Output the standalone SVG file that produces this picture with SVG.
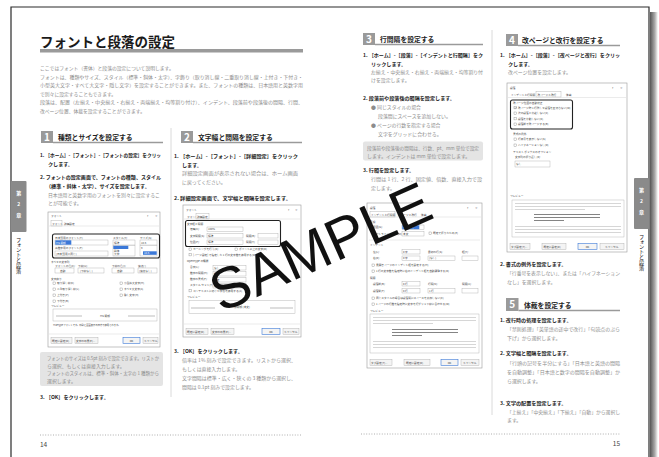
<svg xmlns="http://www.w3.org/2000/svg" width="659" height="457" viewBox="0 0 659 457">
<style>
text{font-family:"Noto Sans CJK JP","Noto Sans",sans-serif}
.ttl{font-size:13.5px;font-weight:bold;fill:#1a1a1a}
.in{font-size:4.8px;fill:#8a8a8a}
.s{font-size:5.1px;font-weight:bold;fill:#222}
.g{font-size:4.9px;fill:#8c8c8c}
.h{font-size:6.8px;font-weight:bold;fill:#222}
.num{font-size:10px;font-weight:bold;fill:#fff}
.nb{fill:#9a9a9a}
.ul{stroke:#9a9a9a;stroke-width:1.3}
.note{fill:#e4e4e4}
.sep{stroke:#d0d0d0;stroke-width:.8}
.dot{stroke:#9a9a9a;stroke-width:.8;stroke-dasharray:1 1.6}
.pn{font-size:6.5px;fill:#444}
.tab{fill:#8a8a8a}
.tabt{font-size:5px;fill:#fff;font-weight:bold}
.vt{font-size:5.2px;fill:#222;writing-mode:vertical-rl}
.dlg{fill:#fff;stroke:#9a9a9a;stroke-width:.6}
.dt{font-size:2.7px;fill:#444}
.dw{font-size:2.7px;fill:#fff}
.db{fill:#fff;stroke:#a8a8a8;stroke-width:.4}
.cb{fill:#fff;stroke:#777;stroke-width:.35}
.hl{fill:none;stroke:#222;stroke-width:1.1}
.bl{fill:#3b78d8}
.btn{fill:#f4f4f4;stroke:#a8a8a8;stroke-width:.4}
.ok{fill:#f4f4f4;stroke:#3b78d8;stroke-width:.6}
.ln{stroke:#ccc;stroke-width:.4}
.pl{fill:#d6d6d6}
.pd{fill:#777}
.wm{font-family:"Liberation Sans",Arial,sans-serif;font-size:58px;fill:#111}
</style>
<defs>
<linearGradient id="shadow" x1="0" y1="0" x2="1" y2="0">
<stop offset="0" stop-color="#555"/>
<stop offset="0.6" stop-color="#aaa"/>
<stop offset="1" stop-color="#fff"/>
</linearGradient>
</defs>

<rect width="659" height="457" fill="#fff"/>

<g id="frame">
<rect x="650" y="12" width="8" height="445" fill="url(#shadow)"/>
<path d="M11 457 V7 H649 V457" fill="#fff" stroke="#2a2a2a" stroke-width="1.2"/>
</g>

<g id="left-page">
<g id="title">
<text class="ttl" x="40" y="46.5">フォントと段落の設定</text>
<rect x="40" y="49" width="263" height="3.5" fill="#9a9a9a"/>
</g>
<g id="intro">
<text class="in" x="40" y="70">ここではフォント（書体）と段落の設定について説明します。</text>
<text class="in" x="40" y="78.5" textLength="263" lengthAdjust="spacingAndGlyphs">フォントは、種類やサイズ、スタイル（標準・斜体・太字）、字飾り（取り消し線・二重取り消し線・上付き・下付き・</text>
<text class="in" x="40" y="87" textLength="263" lengthAdjust="spacingAndGlyphs">小型英大文字・すべて大文字・隠し文字）を設定することができます。また、フォントの種類は、日本語用と英数字用</text>
<text class="in" x="40" y="95.5">で別々に設定することもできます。</text>
<text class="in" x="40" y="104" textLength="263" lengthAdjust="spacingAndGlyphs">段落は、配置（左揃え・中央揃え・右揃え・両端揃え・均等割り付け）、インデント、段落前や段落後の間隔、行間、</text>
<text class="in" x="40" y="112.5">改ページ位置、体裁を設定することができます。</text>
</g>

<line class="sep" x1="171" y1="128" x2="171" y2="397"/>

<g id="section-1">
<rect class="nb" x="41" y="131" width="12" height="12"/>
<text class="num" x="47" y="140.8" text-anchor="middle">1</text>
<text class="h" x="58" y="140">種類とサイズを設定する</text>
<line class="ul" x1="53" y1="142.5" x2="163" y2="142.5"/>
<text class="s" x="40" y="157" textLength="121" lengthAdjust="spacingAndGlyphs">1. ［ホーム］-［フォント］-［フォントの設定］をクリッ</text>
<text class="s" x="48" y="165.5">クします。</text>
<text class="s" x="40" y="179" textLength="121" lengthAdjust="spacingAndGlyphs">2. フォントの設定画面で、フォントの種類、スタイル</text>
<text class="s" x="46" y="188">（標準・斜体・太字）、サイズを設定します。</text>
<text class="g" x="48" y="196.5" textLength="112" lengthAdjust="spacingAndGlyphs">日本語用と英数字用のフォントを別々に設定するこ</text>
<text class="g" x="48" y="205">とが可能です。</text>
</g>

<g id="dialog-font">
<rect class="dlg" x="48" y="212" width="112" height="135"/>
<text class="dt" x="51" y="217">フォント</text>
<text class="dt" x="147" y="217">?</text><text class="dt" x="155" y="217">×</text>
<rect class="db" x="51" y="220.5" width="11" height="5.5"/>
<text class="dt" x="52" y="224.5">フォント</text>
<text class="dt" x="64" y="224.5">詳細設定</text>
<line class="ln" x1="49" y1="226" x2="159" y2="226"/>
<text class="dt" x="55" y="238.5">日本語用のフォント(T):</text>
<text class="dt" x="113" y="238.5">スタイル(Y):</text>
<text class="dt" x="140" y="238.5">サイズ(S):</text>
<rect class="db" x="55" y="240" width="53" height="5"/>
<rect class="bl" x="55.3" y="240.3" width="16" height="4.4"/>
<text class="dw" x="56" y="243.6">MS 明朝</text>
<rect class="db" x="113" y="240" width="22" height="5"/>
<text class="dt" x="114" y="243.6">標準</text>
<rect class="db" x="140" y="240" width="17" height="5"/>
<text class="dt" x="141" y="243.6">10.5</text>
<text class="dt" x="55" y="249">英数字用のフォント(F):</text>
<rect class="db" x="55" y="251" width="53" height="5"/>
<text class="dt" x="56" y="254.6">(日本語用と同じ)</text>
<rect class="db" x="113" y="245.5" width="22" height="10.5"/>
<rect class="bl" x="113.3" y="245.8" width="15" height="3.2"/>
<text class="dt" x="114" y="252">斜体</text>
<text class="dt" x="114" y="255.3">太字</text>
<rect class="db" x="140" y="245.5" width="17" height="10.5"/>
<text class="dt" x="141" y="248.6">9</text>
<rect class="bl" x="143" y="251.3" width="13.7" height="3.5"/>
<text class="dw" x="144" y="254.3">10.5</text>
<rect class="hl" x="52.5" y="234" width="107" height="24" rx="2"/>
<text class="dt" x="51" y="262.5">すべての文字列</text>
<text class="dt" x="55" y="266.5">フォントの色(C):</text>
<text class="dt" x="78" y="266.5">下線(U):</text>
<text class="dt" x="112" y="266.5">下線の色(I):</text>
<text class="dt" x="138" y="266.5">傍点(:)</text>
<rect class="db" x="55" y="268" width="19" height="5"/><text class="dt" x="60" y="271.6">自動</text>
<rect class="db" x="78" y="268" width="26" height="5"/><text class="dt" x="80" y="271.6">(下線なし)</text>
<rect class="db" x="112" y="268" width="22" height="5"/><text class="dt" x="117" y="271.6">自動</text>
<rect class="db" x="138" y="268" width="19" height="5"/><text class="dt" x="139" y="271.6">(傍点なし)</text>
<text class="dt" x="51" y="279.5">文字飾り</text>
<rect class="cb" x="53" y="282" width="2.4" height="2.4"/><text class="dt" x="57" y="284.4">取り消し線(K)</text>
<rect class="cb" x="53" y="288" width="2.4" height="2.4"/><text class="dt" x="57" y="290.4">二重取り消し線(L)</text>
<rect class="cb" x="53" y="294" width="2.4" height="2.4"/><text class="dt" x="57" y="296.4">上付き(P)</text>
<rect class="cb" x="53" y="300" width="2.4" height="2.4"/><text class="dt" x="57" y="302.4">下付き(B)</text>
<rect class="cb" x="120" y="282" width="2.4" height="2.4"/><text class="dt" x="124" y="284.4">小型英大文字(M)</text>
<rect class="cb" x="120" y="288" width="2.4" height="2.4"/><text class="dt" x="124" y="290.4">すべて大文字(A)</text>
<rect class="cb" x="120" y="294" width="2.4" height="2.4"/><text class="dt" x="124" y="296.4">隠し文字(H)</text>
<text class="dt" x="51" y="307">プレビュー</text>
<rect class="db" x="53" y="309" width="104" height="12"/>
<line x1="56" y1="316" x2="82" y2="316" stroke="#555" stroke-width=".4"/>
<line x1="128" y1="316" x2="155" y2="316" stroke="#555" stroke-width=".4"/>
<text class="dt" x="105" y="316.5" text-anchor="middle">MS 明朝</text>
<text class="dt" x="53" y="326" style="font-size:2.3px">TrueType フォントです。印刷と画面表示の両方で使用されます。</text>
<line class="ln" x1="49" y1="334" x2="159" y2="334"/>
<rect class="btn" x="51" y="337.5" width="21" height="6"/><text class="dt" x="52" y="341.5">既定に設定(D)</text>
<rect class="btn" x="75" y="337.5" width="23" height="6"/><text class="dt" x="76" y="341.5">文字の効果(E)...</text>
<rect class="ok" x="123" y="337.5" width="17" height="6"/><text class="dt" x="131.5" y="341.5" text-anchor="middle">OK</text>
<rect class="btn" x="143" y="337.5" width="15" height="6"/><text class="dt" x="144" y="341.5">キャンセル</text>
</g>

<g id="note-1">
<rect class="note" x="40" y="352" width="123" height="34" rx="2"/>
<text class="g" x="47" y="360" textLength="112" lengthAdjust="spacingAndGlyphs">フォントのサイズは 0.5pt 刻みで設定できます。リストか</text>
<text class="g" x="47" y="367.5">ら選択、もしくは直接入力します。</text>
<text class="g" x="47" y="375" textLength="112" lengthAdjust="spacingAndGlyphs">フォントのスタイルは、標準・斜体・太字の 1 種類から</text>
<text class="g" x="47" y="382.5">選択します。</text>
</g>
<text class="s" x="40" y="398.5">3. ［OK］をクリックします。</text>

<g id="section-2">
<rect class="nb" x="181" y="131" width="12" height="12"/>
<text class="num" x="187" y="140.8" text-anchor="middle">2</text>
<text class="h" x="198" y="140">文字幅と間隔を設定する</text>
<line class="ul" x1="193" y1="142.5" x2="302" y2="142.5"/>
<text class="s" x="174" y="158" textLength="124" lengthAdjust="spacingAndGlyphs">1. ［ホーム］-［フォント］-［詳細設定］をクリック</text>
<text class="s" x="182" y="166.5">します。</text>
<text class="g" x="182" y="175" textLength="116" lengthAdjust="spacingAndGlyphs">詳細設定画面が表示されない場合は、ホーム画面</text>
<text class="g" x="182" y="183.5">に戻ってください。</text>
<text class="s" x="174" y="200" textLength="117" lengthAdjust="spacingAndGlyphs">2. 詳細設定画面で、文字幅と間隔を設定します。</text>
</g>

<g id="dialog-detail">
<rect class="dlg" x="183" y="205" width="118" height="132"/>
<text class="dt" x="186" y="210.5">フォント</text>
<text class="dt" x="288" y="210.5">?</text><text class="dt" x="295" y="210.5">×</text>
<text class="dt" x="187" y="217.5">フォント</text>
<rect class="db" x="196" y="213.5" width="13" height="5.5"/>
<text class="dt" x="197" y="217.5">詳細設定</text>
<line class="ln" x1="184" y1="219" x2="300" y2="219"/>
<text class="dt" x="187" y="224.5">文字幅と間隔</text>
<text class="dt" x="190" y="230">倍率(C):</text>
<rect class="db" x="207" y="227" width="36" height="4.5"/><text class="dt" x="208" y="230.3">100%</text>
<text class="dt" x="190" y="236.5">文字間隔(S):</text>
<rect class="db" x="207" y="233.5" width="36" height="4.5"/><text class="dt" x="208" y="236.8">標準</text>
<text class="dt" x="246" y="236.5">間隔(B):</text>
<rect class="db" x="258" y="233.5" width="20" height="4.5"/>
<text class="dt" x="190" y="243">位置(P):</text>
<rect class="db" x="207" y="240" width="36" height="4.5"/><text class="dt" x="208" y="243.3">標準</text>
<text class="dt" x="246" y="243">間隔(Y):</text>
<rect class="db" x="258" y="240" width="20" height="4.5"/>
<rect class="hl" x="185.5" y="220.5" width="95" height="26" rx="2"/>
<rect class="cb" x="189" y="248" width="2.4" height="2.4"/><text class="dt" x="193" y="250.4">カーニングを行う(K):</text>
<rect class="cb" x="235" y="248" width="2.4" height="2.4"/><text class="dt" x="239" y="250.4">ポイント以上の文字(O)</text>
<rect class="cb" x="189" y="253.5" width="2.4" height="2.4"/><text class="dt" x="193" y="255.9">[ページ設定] で指定した 1 行の文字数を使用する(W)</text>
<text class="dt" x="187" y="262">OpenType の機能</text>
<text class="dt" x="190" y="268">合字(L):</text><rect class="db" x="213" y="265.5" width="33" height="4.5"/><text class="dt" x="214" y="268.8">なし</text>
<text class="dt" x="190" y="274">数字の間隔(M):</text><rect class="db" x="213" y="271.5" width="33" height="4.5"/><text class="dt" x="214" y="274.8">既定</text>
<text class="dt" x="190" y="280">数字の書式(F):</text><rect class="db" x="213" y="277.5" width="33" height="4.5"/><text class="dt" x="214" y="280.8">既定</text>
<text class="dt" x="190" y="286">スタイル セット(T):</text><rect class="db" x="213" y="283.5" width="33" height="4.5"/><text class="dt" x="214" y="286.8">既定</text>
<rect class="cb" x="189" y="289.5" width="2.4" height="2.4"/><text class="dt" x="193" y="291.9">コンテキストに応じた字形を使用する(A)</text>
<text class="dt" x="187" y="298">プレビュー</text>
<rect class="db" x="189" y="300.5" width="106" height="13"/>
<line x1="191" y1="308" x2="215" y2="308" stroke="#555" stroke-width=".4"/>
<line x1="270" y1="308" x2="293" y2="308" stroke="#555" stroke-width=".4"/>
<text class="dt" x="242" y="308" text-anchor="middle">游明朝 (本文)</text>
<line class="ln" x1="184" y1="324" x2="300" y2="324"/>
<rect class="btn" x="186" y="328.5" width="22" height="6"/><text class="dt" x="187" y="332.5">既定に設定(D)</text>
<rect class="btn" x="211" y="328.5" width="23" height="6"/><text class="dt" x="212" y="332.5">文字の効果(E)...</text>
<rect class="ok" x="262" y="328.5" width="18" height="6"/><text class="dt" x="271" y="332.5" text-anchor="middle">OK</text>
<rect class="btn" x="283" y="328.5" width="16" height="6"/><text class="dt" x="284" y="332.5">キャンセル</text>
</g>

<g id="step-2-3">
<text class="s" x="174" y="353">3. ［OK］をクリックします。</text>
<text class="g" x="182" y="362" textLength="114" lengthAdjust="spacingAndGlyphs">倍率は 1% 刻みで設定できます。リストから選択、</text>
<text class="g" x="182" y="370.5">もしくは直接入力します。</text>
<text class="g" x="182" y="379.5" textLength="114" lengthAdjust="spacingAndGlyphs">文字間隔は標準・広く・狭くの 3 種類から選択し、</text>
<text class="g" x="182" y="388.5">間隔は 0.1pt 刻みで設定します。</text>
</g>

<g id="footer-left">
<line class="dot" x1="40" y1="435" x2="302" y2="435"/>
<text class="pn" x="40" y="447">14</text>
</g>

<g id="tab-left">
<rect class="tab" x="11" y="181" width="15.5" height="51" rx="1"/>
<text class="tabt" x="18.7" y="195" text-anchor="middle">第</text>
<text class="tabt" x="18.7" y="206" text-anchor="middle">2</text>
<text class="tabt" x="18.7" y="217" text-anchor="middle">章</text>
<text class="vt" x="18.7" y="237">フォントと段落</text>
</g>
</g>

<g id="right-page">
<line class="sep" x1="492" y1="30" x2="492" y2="415"/>

<g id="section-3">
<rect class="nb" x="363" y="33" width="12" height="12"/>
<text class="num" x="369" y="42.8" text-anchor="middle">3</text>
<text class="h" x="380" y="42">行間隔を設定する</text>
<line class="ul" x1="375" y1="44.5" x2="483" y2="44.5"/>
<text class="s" x="363" y="57" textLength="120" lengthAdjust="spacingAndGlyphs">1. ［ホーム］-［段落］-［インデントと行間隔］をク</text>
<text class="s" x="371" y="65.5">リックします。</text>
<text class="g" x="371" y="73.5" textLength="112" lengthAdjust="spacingAndGlyphs">左揃え・中央揃え・右揃え・両端揃え・均等割り付</text>
<text class="g" x="371" y="82">けを設定します。</text>
<text class="s" x="363" y="100">2. 段落前や段落後の間隔を設定します。</text>
<text class="g" x="371" y="109">● 同じスタイルの場合</text>
<text class="g" x="378" y="118">段落間にスペースを追加しない。</text>
<text class="g" x="371" y="127">● ページの行数を指定する場合</text>
<text class="g" x="378" y="136">文字をグリッドに合わせる。</text>
<rect class="note" x="363" y="141.5" width="120" height="19" rx="2"/>
<text class="g" x="367" y="150" textLength="112" lengthAdjust="spacingAndGlyphs">段落前や段落後の間隔は、行数、pt、mm 単位で設定</text>
<text class="g" x="367" y="157.5">します。インデントは mm 単位で設定します。</text>
<text class="s" x="363" y="172">3. 行間を設定します。</text>
<text class="g" x="371" y="181" textLength="111" lengthAdjust="spacingAndGlyphs">行間は 1 行、2 行、固定値、倍数、直接入力で設</text>
<text class="g" x="371" y="190">定します。</text>
</g>

<g id="dialog-indent">
<rect class="dlg" x="367" y="203" width="115" height="165"/>
<text class="dt" x="370" y="208.5">段落</text>
<text class="dt" x="467" y="208.5">?</text><text class="dt" x="475" y="208.5">×</text>
<rect class="db" x="370" y="211.5" width="25" height="5.5"/>
<text class="dt" x="371" y="215.5">インデントと行間隔</text>
<text class="dt" x="398" y="215.5">改ページと改行</text>
<text class="dt" x="421" y="215.5">体裁</text>
<line class="ln" x1="368" y1="217" x2="481" y2="217"/>
<text class="dt" x="370" y="222.5">全般</text>
<text class="dt" x="373" y="228">配置(G):</text>
<rect class="db" x="402" y="225" width="22" height="4.5"/>
<rect class="bl" x="402.3" y="225.3" width="17" height="3.9"/>
<text class="dw" x="403" y="228.3">両端揃え</text>
<text class="dt" x="373" y="234.5">アウトライン レベル(O):</text>
<rect class="db" x="402" y="231.5" width="22" height="4.5"/><text class="dt" x="403" y="234.8">本文</text>
<rect class="cb" x="429" y="232" width="2.4" height="2.4"/><text class="dt" x="433" y="234.4">既定で折りたたみ(E)</text>
<line class="ln" x1="369" y1="240" x2="480" y2="240"/>
<text class="dt" x="370" y="246">インデント</text>
<text class="dt" x="373" y="252.5">左(L):</text>
<rect class="db" x="402" y="249.5" width="18" height="4.5"/><text class="dt" x="403" y="252.8">0 字</text>
<text class="dt" x="428" y="252.5">最初の行(S):</text>
<text class="dt" x="462" y="252.5">幅(Y):</text>
<text class="dt" x="373" y="259">右(R):</text>
<rect class="db" x="402" y="256" width="18" height="4.5"/><text class="dt" x="403" y="259.3">0 字</text>
<rect class="db" x="428" y="256" width="27" height="4.5"/><text class="dt" x="429" y="259.3">(なし)</text>
<rect class="db" x="462" y="256" width="16" height="4.5"/>
<rect class="cb" x="372" y="264" width="2.4" height="2.4"/><text class="dt" x="376" y="266.4">見開きページのインデント幅を設定する(M)</text>
<rect class="cb" x="372" y="270" width="2.4" height="2.4"/><text class="dt" x="376" y="272.4">1 行の文字数を指定時に右のインデント幅を自動調整する(D)</text>
<text class="dt" x="370" y="278.5">間隔</text>
<text class="dt" x="373" y="284.5">段落前(B):</text>
<rect class="db" x="402" y="281.5" width="18" height="4.5"/><text class="dt" x="403" y="284.8">0 行</text>
<text class="dt" x="428" y="284.5">行間(N):</text>
<text class="dt" x="462" y="284.5">間隔(A):</text>
<text class="dt" x="373" y="291.5">段落後(F):</text>
<rect class="db" x="402" y="288.5" width="18" height="4.5"/><text class="dt" x="403" y="291.8">0 行</text>
<rect class="db" x="428" y="288.5" width="27" height="4.5"/><text class="dt" x="429" y="291.8">1 行</text>
<rect class="db" x="462" y="288.5" width="16" height="4.5"/>
<rect class="cb" x="372" y="297" width="2.4" height="2.4"/><text class="dt" x="376" y="299.4">同じスタイルの場合は段落間にスペースを追加しない(C)</text>
<rect class="cb" x="372" y="303" width="2.4" height="2.4"/><text class="dt" x="376" y="305.4">1 ページの行数を指定時に文字を行グリッド線に合わせる(W)</text>
<text class="dt" x="370" y="311.5">プレビュー</text>
<rect class="db" x="370" y="314" width="109" height="39"/>
<rect class="pl" x="373" y="317" width="103" height="1"/>
<rect class="pl" x="373" y="320" width="103" height="1"/>
<rect class="pl" x="373" y="323" width="60" height="1"/>
<rect class="pd" x="392" y="329" width="66" height=".9"/>
<rect class="pd" x="392" y="332" width="66" height=".9"/>
<rect class="pd" x="392" y="335" width="30" height=".9"/>
<rect class="pl" x="373" y="341" width="103" height="1"/>
<rect class="pl" x="373" y="344" width="103" height="1"/>
<rect class="pl" x="373" y="347" width="103" height="1"/>
<rect class="btn" x="370" y="359.5" width="22" height="6"/><text class="dt" x="371" y="363.5">タブ設定(T)...</text>
<rect class="btn" x="404" y="359.5" width="26" height="6"/><text class="dt" x="406" y="363.5">既定に設定(D)</text>
<rect class="ok" x="441" y="359.5" width="17" height="6"/><text class="dt" x="449.5" y="363.5" text-anchor="middle">OK</text>
<rect class="btn" x="461" y="359.5" width="18" height="6"/><text class="dt" x="463" y="363.5">キャンセル</text>
</g>

<g id="section-4">
<rect class="nb" x="506" y="34" width="12" height="12"/>
<text class="num" x="512" y="43.8" text-anchor="middle">4</text>
<text class="h" x="522" y="43">改ページと改行を設定する</text>
<line class="ul" x1="518" y1="45.5" x2="620" y2="45.5"/>
<text class="s" x="500" y="57" textLength="120" lengthAdjust="spacingAndGlyphs">1. ［ホーム］-［段落］-［改ページと改行］をクリッ</text>
<text class="s" x="508" y="65.5">クします。</text>
<text class="g" x="508" y="74">改ページ位置を設定します。</text>
</g>

<g id="dialog-pagebreak">
<rect class="dlg" x="507" y="83" width="120" height="169"/>
<text class="dt" x="510" y="88.5">段落</text>
<text class="dt" x="612" y="88.5">?</text><text class="dt" x="620" y="88.5">×</text>
<text class="dt" x="511" y="95.5">インデントと行間隔</text>
<rect class="db" x="536" y="91.5" width="25" height="5.5"/>
<text class="dt" x="537.5" y="95.5">改ページと改行</text>
<text class="dt" x="566" y="95.5">体裁</text>
<line class="ln" x1="508" y1="97.5" x2="626" y2="97.5"/>
<text class="dt" x="513" y="104">改ページ位置の自動修正</text>
<rect class="cb" x="514" y="106.5" width="2.4" height="2.4"/><path d="M514.4 107.7 l.8 .8 l1.3 -1.5" fill="none" stroke="#333" stroke-width=".35"/><text class="dt" x="518" y="108.9">改ページ時 1 行残して段落を区切らない(W)</text>
<rect class="cb" x="514" y="112" width="2.4" height="2.4"/><text class="dt" x="518" y="114.4">次の段落と分離しない(X)</text>
<rect class="cb" x="514" y="117.5" width="2.4" height="2.4"/><text class="dt" x="518" y="119.9">段落を分割しない(K)</text>
<rect class="cb" x="514" y="123" width="2.4" height="2.4"/><text class="dt" x="518" y="125.4">段落前で改ページする(B)</text>
<rect class="hl" x="510.5" y="100" width="62" height="29" rx="2"/>
<text class="dt" x="513" y="135">書式の例外</text>
<rect class="cb" x="514" y="138" width="2.4" height="2.4"/><text class="dt" x="518" y="140.4">行番号を表示しない(S)</text>
<rect class="cb" x="514" y="144" width="2.4" height="2.4"/><text class="dt" x="518" y="146.4">ハイフネーションなし(D)</text>
<text class="dt" x="513" y="152.5">テキスト ボックスのオプション</text>
<text class="dt" x="515" y="158">文字列の折り返し(R):</text>
<rect class="db" x="515" y="161" width="35" height="6"/><text class="dt" x="516" y="165">なし</text>
<text class="dt" x="510" y="197">プレビュー</text>
<rect class="db" x="512" y="200" width="112" height="37"/>
<rect class="pl" x="515" y="203" width="106" height="1"/>
<rect class="pl" x="515" y="206" width="106" height="1"/>
<rect class="pl" x="515" y="209" width="70" height="1"/>
<rect class="pd" x="534" y="214" width="66" height=".9"/>
<rect class="pd" x="534" y="217" width="66" height=".9"/>
<rect class="pd" x="534" y="220" width="30" height=".9"/>
<rect class="pl" x="515" y="226" width="106" height="1"/>
<rect class="pl" x="515" y="229" width="106" height="1"/>
<rect class="pl" x="515" y="232" width="106" height="1"/>
<rect class="btn" x="510" y="243.5" width="20" height="6"/><text class="dt" x="511" y="247.5">タブ設定(T)...</text>
<rect class="btn" x="542" y="243.5" width="24" height="6"/><text class="dt" x="543.5" y="247.5">既定に設定(D)</text>
<rect class="ok" x="578" y="243.5" width="19" height="6"/><text class="dt" x="587.5" y="247.5" text-anchor="middle">OK</text>
<rect class="btn" x="600" y="243.5" width="24" height="6"/><text class="dt" x="605" y="247.5">キャンセル</text>
</g>

<g id="section-4-step2">
<text class="s" x="500" y="266">2. 書式の例外を設定します。</text>
<text class="g" x="507" y="275" textLength="113" lengthAdjust="spacingAndGlyphs">「行番号を表示しない」、または「ハイフネーション</text>
<text class="g" x="507" y="284">なし」を選択します。</text>
</g>

<g id="section-5">
<rect class="nb" x="506" y="298" width="12.5" height="13"/>
<text class="num" x="512.3" y="308.3" text-anchor="middle">5</text>
<text class="h" x="524" y="307.5">体裁を設定する</text>
<line class="ul" x1="518.5" y1="310.5" x2="620" y2="310.5"/>
<text class="s" x="500" y="322">1. 改行時の処理を設定します。</text>
<text class="g" x="507" y="331" textLength="113" lengthAdjust="spacingAndGlyphs">「禁則処理」「英単語の途中で改行」「句読点のぶら</text>
<text class="g" x="507" y="340">下げ」から選択します。</text>
<text class="s" x="500" y="355">2. 文字幅と間隔を設定します。</text>
<text class="g" x="507" y="364.5" textLength="113" lengthAdjust="spacingAndGlyphs">「行頭の記号を半分にする」「日本語と英語の間隔</text>
<text class="g" x="507" y="373.5" textLength="113" lengthAdjust="spacingAndGlyphs">を自動調整」「日本語と数字の間隔を自動調整」か</text>
<text class="g" x="507" y="382.5">ら選択します。</text>
<text class="s" x="500" y="405">3. 文字の配置を設定します。</text>
<text class="g" x="507" y="413.5" textLength="113" lengthAdjust="spacingAndGlyphs">「上揃え」「中央揃え」「下揃え」「自動」から選択し</text>
<text class="g" x="507" y="422">ます。</text>
</g>

<g id="footer-right">
<line class="dot" x1="361" y1="434" x2="620" y2="434"/>
<text class="pn" x="620" y="446" text-anchor="end">15</text>
</g>

<g id="tab-right">
<rect class="tab" x="634" y="178" width="15" height="51" rx="1"/>
<text class="tabt" x="641.5" y="192" text-anchor="middle">第</text>
<text class="tabt" x="641.5" y="203" text-anchor="middle">2</text>
<text class="tabt" x="641.5" y="214" text-anchor="middle">章</text>
<text class="vt" x="641.5" y="234">フォントと段落</text>
</g>
</g>

<g id="watermark">
<text class="wm" x="0" y="21" text-anchor="middle" transform="translate(320,246) rotate(-24)">SAMPLE</text>
</g>
</svg>
